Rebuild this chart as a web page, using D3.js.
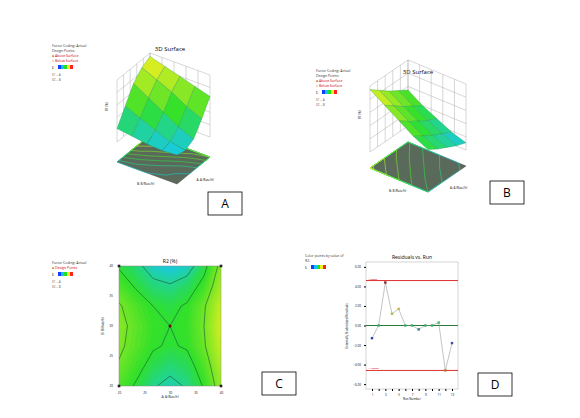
<!DOCTYPE html>
<html><head><meta charset="utf-8">
<script src="https://cdn.jsdelivr.net/npm/d3@7"></script>
<style>body{margin:0;background:#fff}text{font-family:"Open Sans",sans-serif}</style>
</head><body>
<svg id="c" width="580" height="418"></svg>
<script>
// surface heights (rows = A factor toward front, cols = B factor toward back)
const surfA = [
  [32, 46, 60, 68, 72],
  [30, 40, 52, 62, 68],
  [28, 34, 44, 56, 64],
  [27, 29, 36, 48, 60],
  [28, 26, 30, 42, 56]
]
const surfB = [
  [72, 66, 60, 55, 50],
  [64, 58, 52, 47, 42],
  [56, 50, 45, 40, 36],
  [48, 43, 38, 34, 30],
  [42, 37, 33, 29, 26]
]
// R2 contour grid (rows top->bottom, cols left->right)
const r2Grid = [
  [44, 38, 30, 27, 30, 42, 58],
  [50, 44, 38, 36, 40, 48, 62],
  [56, 50, 45, 43, 46, 54, 66],
  [58, 52, 47, 45, 47, 55, 68],
  [57, 51, 46, 44, 46, 54, 66],
  [54, 48, 42, 38, 41, 50, 63],
  [50, 44, 36, 32, 36, 46, 60]
]
const r2Ticks = ["20", "25", "30", "35", "40"]
const runs = [1,2,3,4,5,6,7,8,9,10,11,12,13]
const residuals = [-1.3, 0, 4.4, 1.2, 1.7, 0, 0, -0.4, 0, 0, 0.3, -4.6, -1.8]
const resTicks = [-6, -4, -2, 0, 2, 4, 6]
const limit = 4.6

const svg = d3.select("#c")
const col = d3.scaleLinear().domain([25, 45, 70]).range(["#16c8f0", "#2fe02a", "#e8f020"])

function legend(x, y, lines, bar) {
  const g = svg.append("g").attr("transform", `translate(${x},${y})`)
  lines.forEach((t, i) => g.append("text").attr("y", i * 5).attr("font-size", 3.5)
    .attr("fill", t.startsWith("●") || t.startsWith("○") ? "#c00" : "#333").text(t))
  const by = lines.length * 5 - 2
  const grad = ["#1040ff", "#10c0ff", "#20e020", "#f0f020", "#ff2020"]
  grad.forEach((c, i) => g.append("rect").attr("x", 6 + i * 3).attr("y", by).attr("width", 3).attr("height", 4).attr("fill", c))
  g.append("text").attr("y", by + 3.5).attr("font-size", 3).text("6")
  if (bar) bar.forEach((t, i) => g.append("text").attr("y", by + 11 + i * 5).attr("font-size", 3).attr("fill", "#555").text(t))
}

function surface(grid, o) {
  const n = grid.length - 1
  const zs = d3.scaleLinear().domain([20, 75]).range([0, o.H - o.gap])
  const P = (u, v, w) => [o.l[0] + u * (o.f[0] - o.l[0]) + v * (o.b[0] - o.l[0]),
                          o.l[1] + u * (o.f[1] - o.l[1]) + v * (o.b[1] - o.l[1]) - w]
  const g = svg.append("g")
  g.append("text").attr("x", o.tx).attr("y", o.ty).attr("text-anchor", "middle").attr("font-size", 6).text("3D Surface")
  const wall = (a, b) => { for (let k = 0; k <= 5; k++) {
    const s = k / 5
    const p1 = P(a[0] + (b[0] - a[0]) * s, a[1] + (b[1] - a[1]) * s, o.gap)
    const p2 = P(a[0] + (b[0] - a[0]) * s, a[1] + (b[1] - a[1]) * s, o.H)
    g.append("line").attr("x1", p1[0]).attr("y1", p1[1]).attr("x2", p2[0]).attr("y2", p2[1]).attr("stroke", "#999").attr("stroke-width", .4)
    const q1 = P(a[0], a[1], o.gap + (o.H - o.gap) * s), q2 = P(b[0], b[1], o.gap + (o.H - o.gap) * s)
    g.append("line").attr("x1", q1[0]).attr("y1", q1[1]).attr("x2", q2[0]).attr("y2", q2[1]).attr("stroke", "#999").attr("stroke-width", .4)
  } }
  wall([0, 0], [0, 1]); wall([0, 1], [1, 1])
  const fl = [P(0, 0, 0), P(1, 0, 0), P(1, 1, 0), P(0, 1, 0)]
  g.append("polygon").attr("points", fl.join(" ")).attr("fill", "#5a6a5a").attr("stroke", "#333").attr("stroke-width", .4)
  const cont = d3.contours().size([n + 1, n + 1]).thresholds(d3.range(28, 72, 7))(grid.flat())
  const cl = t => Math.max(0, Math.min(1, (t - .5) / n))
  const proj = d3.geoTransform({ point(x, y) { const p = P(cl(y), cl(x), 0); this.stream.point(p[0], p[1]) } })
  g.append("g").selectAll("path").data(cont).join("path").attr("d", d3.geoPath(proj))
    .attr("fill", "none").attr("stroke", d => col(d.value)).attr("stroke-width", .6)
  const quads = []
  for (let i = 0; i < n; i++) for (let j = 0; j < n; j++) {
    const z = (grid[i][j] + grid[i + 1][j] + grid[i][j + 1] + grid[i + 1][j + 1]) / 4
    const W = v => o.gap + zs(v)
    quads.push({ i, j, z, pts: [P(i / n, j / n, W(grid[i][j])), P((i + 1) / n, j / n, W(grid[i + 1][j])),
      P((i + 1) / n, (j + 1) / n, W(grid[i + 1][j + 1])), P(i / n, (j + 1) / n, W(grid[i][j + 1]))] })
  }
  quads.sort((a, b) => (a.i - a.j) - (b.i - b.j))
  g.append("g").selectAll("polygon").data(quads).join("polygon").attr("points", d => d.pts.join(" "))
    .attr("fill", d => col(d.z)).attr("stroke", "#1a8a4a").attr("stroke-width", .3)
  const zt = P(0, 0, o.gap)
  g.append("text").attr("transform", `translate(${zt[0] - 9},${zt[1] - (o.H - o.gap) / 2}) rotate(-90)`).attr("font-size", 3).text("R1 (%)")
  const a1 = P(.5, 0, 0), a2 = P(1, .5, 0)
  g.append("text").attr("x", a1[0] - 10).attr("y", a1[1] + 12).attr("font-size", 3).text("B: B (Rate/h)")
  g.append("text").attr("x", a2[0] + 3).attr("y", a2[1] + 10).attr("font-size", 3).text("A: A (Rate/h)")
}

function box(x, y, t) {
  svg.append("rect").attr("x", x).attr("y", y).attr("width", 34).attr("height", 23).attr("fill", "#fff").attr("stroke", "#000").attr("stroke-width", .8)
  svg.append("text").attr("x", x + 17).attr("y", y + 16).attr("text-anchor", "middle").attr("font-size", 12).text(t)
}

// Panel A
legend(52, 47, ["Factor Coding: Actual", "Design Points:", "● Above Surface", "○ Below Surface"], ["X1 = A", "X2 = B"])
surface(surfA, { l: [117, 162], f: [177, 184], b: [150, 135], H: 82, gap: 20, tx: 170, ty: 51 })
box(208, 192, "A")

// Panel B
legend(316, 72, ["Factor Coding: Actual", "Design Points:", "● Above Surface", "○ Below Surface"], ["X1 = A", "X2 = B"])
surface(surfB, { l: [370, 168], f: [428, 192], b: [408, 142], H: 82, gap: 16, tx: 418, ty: 74 })
box(490, 181, "B")

// Panel C
legend(52, 264, ["Factor Coding: Actual", "● Design Points"], ["X1 = A", "X2 = B"])
{
  const x = d3.scaleLinear().domain([20, 40]).range([119, 221])
  const y = d3.scaleLinear().domain([20, 40]).range([386, 266])
  const gx = d3.scaleLinear().domain([.5, 6.5]).range([119, 221])
  const gy = d3.scaleLinear().domain([.5, 6.5]).range([266, 386])
  const g = svg.append("g")
  svg.append("defs").append("clipPath").attr("id", "cc").append("rect").attr("x", 119).attr("y", 266).attr("width", 102).attr("height", 120)
  const path = d3.geoPath(d3.geoTransform({ point(px, py) { this.stream.point(gx(px), gy(py)) } }))
  const inner = g.append("g").attr("clip-path", "url(#cc)")
  const bands = d3.contours().size([7, 7]).thresholds(d3.range(20, 80, 1.5))(r2Grid.flat())
  inner.append("rect").attr("x", 119).attr("y", 266).attr("width", 102).attr("height", 120).attr("fill", col(25))
  inner.selectAll("path.b").data(bands).join("path").attr("d", path).attr("fill", d => col(d.value))
  const lines = d3.contours().size([7, 7]).thresholds([35, 45, 55])(r2Grid.flat())
  inner.selectAll("path.l").data(lines).join("path").attr("d", path).attr("fill", "none").attr("stroke", "#1a5a2a").attr("stroke-width", .6)
  g.append("rect").attr("x", 119).attr("y", 266).attr("width", 102).attr("height", 120).attr("fill", "none").attr("stroke", "#888").attr("stroke-width", .5)
  g.append("text").attr("x", 170).attr("y", 263).attr("text-anchor", "middle").attr("font-size", 5).text("R2 (%)")
  g.append("g").attr("transform", "translate(0,389)").call(d3.axisBottom(x).tickValues([20, 25, 30, 35, 40]).tickSize(0).tickFormat((d, i) => r2Ticks[i]))
    .call(a => a.select(".domain").remove()).selectAll("text").attr("font-size", 3)
  g.append("g").attr("transform", "translate(116,0)").call(d3.axisLeft(y).tickValues([20, 25, 30, 35, 40]).tickSize(0).tickFormat((d, i) => r2Ticks[i]))
    .call(a => a.select(".domain").remove()).selectAll("text").attr("font-size", 3)
  g.append("text").attr("x", 170).attr("y", 398).attr("text-anchor", "middle").attr("font-size", 3).text("A: A (Rate/h)")
  g.append("text").attr("transform", "translate(104,326) rotate(-90)").attr("text-anchor", "middle").attr("font-size", 3).text("B: B (Rate/h)")
  g.append("circle").attr("cx", x(30)).attr("cy", y(30)).attr("r", 1.5).attr("fill", "#700")
  ;[[20, 20], [40, 20], [20, 40], [40, 40]].forEach(p => g.append("rect").attr("x", x(p[0]) - 1.3).attr("y", y(p[1]) - 1.3).attr("width", 2.6).attr("height", 2.6).attr("fill", "#222"))
}
box(262, 372, "C")

// Panel D
legend(305, 257, ["Color points by value of", "R2:"], null)
{
  const x = d3.scaleLinear().domain([1, 13]).range([372, 452])
  const y = d3.scaleLinear().domain([-6.5, 6.5]).range([389, 262])
  const g = svg.append("g")
  g.append("rect").attr("x", 366).attr("y", 262).attr("width", 92).attr("height", 127).attr("fill", "none").attr("stroke", "#aaa").attr("stroke-width", .5)
  g.append("text").attr("x", 412).attr("y", 259).attr("text-anchor", "middle").attr("font-size", 5).text("Residuals vs. Run")
  g.append("g").attr("transform", "translate(366,0)").call(d3.axisLeft(y).tickValues(resTicks).tickSize(2).tickFormat(d3.format(".2f")))
    .call(a => a.select(".domain").remove()).selectAll("text").attr("font-size", 3)
  g.append("g").attr("transform", "translate(0,389)").call(d3.axisBottom(x).tickValues(runs).tickSize(2).tickFormat(d => d % 2 ? d : ""))
    .call(a => a.select(".domain").remove()).selectAll("text").attr("font-size", 3)
  ;[limit, -limit].forEach(v => {
    g.append("line").attr("x1", 366).attr("x2", 458).attr("y1", y(v)).attr("y2", y(v)).attr("stroke", "#e03030").attr("stroke-width", 1)
    g.append("text").attr("x", 368).attr("y", y(v) - 1).attr("font-size", 2.5).attr("fill", "#c00").text(d3.format(".5f")(v))
  })
  g.append("line").attr("x1", 366).attr("x2", 458).attr("y1", y(0)).attr("y2", y(0)).attr("stroke", "#2a7a3a").attr("stroke-width", 1)
  const line = d3.line().x((d, i) => x(runs[i])).y(d => y(d))
  g.append("path").attr("d", line(residuals)).attr("fill", "none").attr("stroke", "#888").attr("stroke-width", .5)
  const pc = d3.scaleLinear().domain([-5, -1, 0, 1.5, 4.5]).range(["#c08020", "#2040c0", "#30b060", "#d0c040", "#802020"])
  g.selectAll("rect.p").data(residuals).join("rect").attr("x", (d, i) => x(runs[i]) - 1.2).attr("y", d => y(d) - 1.2)
    .attr("width", 2.4).attr("height", 2.4).attr("fill", d => pc(d))
  g.append("text").attr("x", 412).attr("y", 400).attr("text-anchor", "middle").attr("font-size", 3).text("Run Number")
  g.append("text").attr("transform", "translate(348,326) rotate(-90)").attr("text-anchor", "middle").attr("font-size", 3).text("Externally Studentized Residuals")
}
box(478, 373, "D")
</script>
</body></html>
